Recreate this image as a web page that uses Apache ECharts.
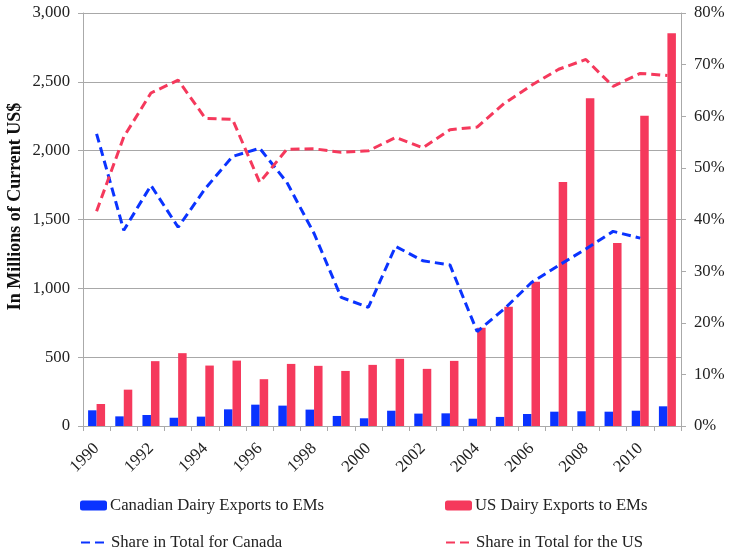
<!DOCTYPE html>
<html>
<head>
<meta charset="utf-8">
<script src="https://cdn.jsdelivr.net/npm/echarts@6/dist/echarts.min.js"></script>
<style>
  html, body { margin: 0; padding: 0; background: #fff; }
  #chart { width: 729px; height: 549px; }
</style>
</head>
<body>
<div id="chart"></div>
<script>
const years = ["1990","1991","1992","1993","1994","1995","1996","1997","1998","1999","2000",
  "2001","2002","2003","2004","2005","2006","2007","2008","2009","2010","2011"];
// millions of current US$
const canadaExports = [114, 70, 80, 60, 68, 121, 155, 148, 119, 73, 56,
  111, 90, 92, 53, 66, 87, 104, 107, 104, 111, 143];
const usExports = [160, 264, 471, 529, 439, 475, 340, 451, 437, 400, 444,
  488, 415, 473, 713, 866, 1048, 1773, 2380, 1330, 2254, 2853];
// share in total (fraction)
const canadaShare = [0.566, 0.379, 0.466, 0.385, 0.460, 0.522, 0.538, 0.472, 0.373, 0.249, 0.230,
  0.348, 0.320, 0.312, 0.183, 0.227, 0.278, 0.311, 0.343, 0.377, 0.364, null];
const usShare = [0.416, 0.560, 0.645, 0.670, 0.596, 0.594, 0.472, 0.536, 0.537, 0.530, 0.533,
  0.559, 0.539, 0.574, 0.579, 0.625, 0.660, 0.691, 0.710, 0.658, 0.683, 0.679];

const BLUE = "#0a33ff";
const RED = "#f5395c";
const FONT = "Liberation Serif";
const textStyle = { fontFamily: FONT, fontSize: 16.7, color: "#222" };

const myChart = echarts.init(document.getElementById("chart"));

const legendItem = (name, left, top, hideSymbol) => {
  const l = {
    data: [name],
    left: left,
    top: top,
    itemWidth: 27,
    itemHeight: 10,
    textStyle: Object.assign({ padding: [0, 0, 0, -2] }, textStyle),
    selectedMode: false,
  };
  // line legends: keep only the dashed line, no marker in the middle
  if (hideSymbol) {
    l.itemStyle = { color: "rgba(0,0,0,0)", borderColor: "rgba(0,0,0,0)", borderWidth: 0, opacity: 0 };
  }
  return l;
};

const option = {
  animation: false,
  textStyle: { fontFamily: FONT },
  grid: { left: 83, right: 48, top: 13, bottom: 123, outerBoundsMode: "none", containLabel: false },
  legend: [
    legendItem("Canadian Dairy Exports to EMs", 75, 492),
    legendItem("US Dairy Exports to EMs", 440, 492),
    legendItem("Share in Total for Canada", 75, 529, true),
    legendItem("Share in Total for the US", 440, 529, true),
  ],
  xAxis: {
    type: "category",
    data: years,
    boundaryGap: true,
    axisLine: { lineStyle: { color: "#aaa", width: 1 } },
    axisTick: { show: true, interval: 0, length: 5, lineStyle: { color: "#aaa" } },
    axisLabel: Object.assign({ interval: 1, rotate: 45, margin: 20 }, textStyle),
  },
  yAxis: [
    {
      type: "value",
      min: 0,
      max: 3000,
      interval: 500,
      name: "In Millions of Current US$",
      nameLocation: "middle",
      nameGap: 59,
      nameMoveOverlap: false,
      nameTextStyle: { fontFamily: FONT, fontSize: 18, fontWeight: "bold", color: "#111", padding: [0, 0, 0, 26] },
      axisLine: { show: true, lineStyle: { color: "#aaa" } },
      axisTick: { show: true, length: 5, lineStyle: { color: "#aaa" } },
      axisLabel: Object.assign({
        margin: 13,
        formatter: v => v.toLocaleString("en-US"),
      }, textStyle),
      splitLine: { lineStyle: { color: "#a8a8a8", width: 1 } },
    },
    {
      type: "value",
      min: 0,
      max: 0.8,
      interval: 0.1,
      position: "right",
      axisLine: { show: true, lineStyle: { color: "#aaa" } },
      axisTick: { show: true, length: 5, lineStyle: { color: "#aaa" } },
      axisLabel: Object.assign({
        margin: 13,
        formatter: v => Math.round(v * 100) + "%",
      }, textStyle),
      splitLine: { show: false },
    },
  ],
  series: [
    {
      name: "Canadian Dairy Exports to EMs",
      type: "bar",
      data: canadaExports,
      barWidth: 8.5,
      barGap: "0%",
      itemStyle: { color: BLUE },
    },
    {
      name: "US Dairy Exports to EMs",
      type: "bar",
      data: usExports,
      barWidth: 8.5,
      barGap: "0%",
      itemStyle: { color: RED },
    },
    {
      name: "Share in Total for Canada",
      type: "line",
      yAxisIndex: 1,
      data: canadaShare,
      symbol: "none",
      lineStyle: { color: BLUE, width: 3, type: [9, 5] },
      itemStyle: { color: BLUE },
    },
    {
      name: "Share in Total for the US",
      type: "line",
      yAxisIndex: 1,
      data: usShare,
      symbol: "none",
      lineStyle: { color: RED, width: 3, type: [9, 5] },
      itemStyle: { color: RED },
    },
  ],
};
myChart.setOption(option);
</script>
</body>
</html>
